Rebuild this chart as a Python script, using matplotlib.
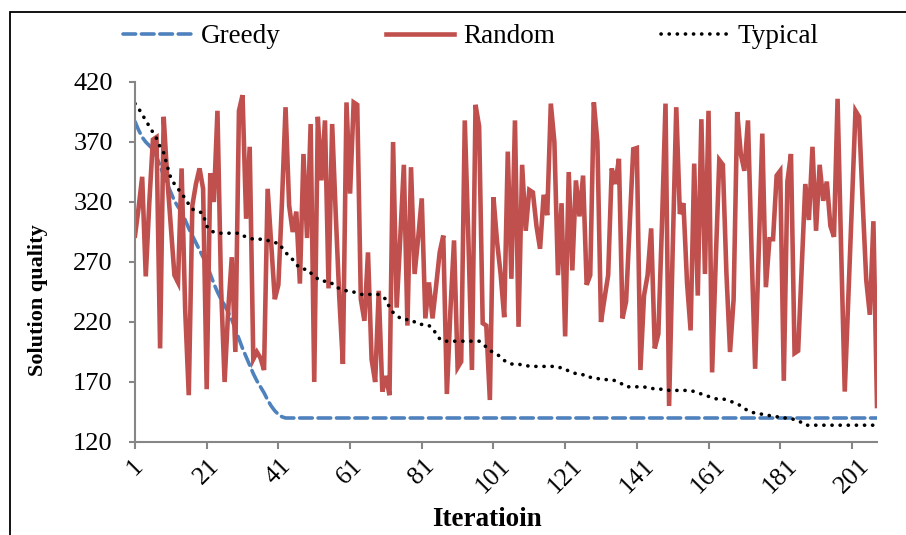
import matplotlib
matplotlib.use("Agg")
import matplotlib.pyplot as plt
import numpy as np
from matplotlib.patches import Rectangle

plt.rcParams['font.family'] = ['Liberation Serif', 'DejaVu Serif']

# solution quality per iteration
random_q = [292, 315, 341, 258, 320, 372, 374, 198, 391, 340,
            300, 259, 253, 348, 230, 159, 317, 335, 348, 331,
            164, 344, 320, 396, 250, 170, 230, 274, 195, 396,
            409, 306, 366, 189, 195, 190, 180, 331, 285, 239,
            251, 320, 399, 317, 295, 312, 252, 360, 290, 385,
            170, 391, 338, 388, 248, 385, 310, 240, 185, 403,
            327, 403, 401, 239, 221, 278, 189, 170, 246, 162,
            175, 159, 370, 232, 290, 351, 217, 349, 260, 290,
            323, 223, 253, 223, 250, 278, 292, 160, 230, 288,
            182, 187, 388, 290, 180, 401, 383, 219, 217, 155,
            324, 287, 260, 224, 362, 256, 388, 216, 351, 296,
            330, 328, 300, 281, 326, 309, 402, 370, 259, 319,
            208, 345, 263, 338, 308, 342, 251, 259, 403, 370,
            220, 240, 259, 348, 335, 356, 223, 237, 300, 364,
            365, 180, 242, 259, 298, 198, 210, 300, 402, 150,
            280, 399, 310, 319, 253, 213, 352, 242, 389, 260,
            396, 178, 270, 355, 351, 260, 195, 239, 395, 360,
            346, 388, 280, 181, 280, 377, 249, 289, 289, 342,
            346, 171, 337, 360, 194, 196, 265, 335, 305, 366,
            296, 351, 321, 337, 300, 291, 406, 280, 162, 240,
            318, 396, 391, 320, 255, 226, 304, 150]

greedy_q = [387, 380, 374, 370, 367, 364, 358, 350, 342, 335,
            328, 321, 316, 312, 305, 298, 292, 286, 280, 274,
            268, 260, 252, 245, 239, 234, 228, 222, 214, 206,
            198, 191, 184, 177, 171, 166, 161, 155, 150, 146,
            143, 141] + [140] * 166

typical_q = [402, 398, 393, 388, 383, 378, 373, 366, 361, 350,
             340, 335, 331, 327, 323, 318, 314, 313, 312, 310,
             300, 296, 295, 294, 294, 294, 294, 294, 294, 294,
             292, 291, 290, 289, 289, 289, 289, 288, 287, 286,
             286, 282, 278, 275, 272, 268, 265, 264, 264, 261,
             258, 256, 254, 254, 254, 252, 249, 248, 247, 246,
             245, 245, 244, 243, 243, 243, 243, 243, 243, 241,
             239, 232, 228, 226, 223, 222, 222, 222, 220, 218,
             218, 218, 217, 215, 210, 206, 204, 204, 204, 204,
             204, 204, 204, 204, 204, 204, 204, 202, 199, 196,
             195, 193, 191, 188, 186, 185, 185, 185, 184, 184,
             183, 183, 183, 183, 183, 183, 183, 183, 182, 182,
             181, 179, 178, 177, 177, 176, 174, 174, 173, 173,
             172, 172, 172, 172, 171, 170, 168, 166, 166, 166,
             166, 166, 166, 165, 165, 164, 164, 164, 164, 163,
             163, 163, 163, 163, 163, 163, 162, 161, 160, 159,
             158, 157, 156, 156, 156, 155, 154, 153, 152, 150,
             148, 146, 145, 144, 144, 143, 143, 142, 141, 141,
             141, 140, 140, 139, 139, 138, 136, 134, 134, 134,
             134, 134, 134, 134, 134, 134, 134, 134, 134, 134,
             134, 134, 134, 134, 134, 134, 134]

x_ticks = [1, 21, 41, 61, 81, 101, 121, 141, 161, 181, 201]
y_ticks = [120, 170, 220, 270, 320, 370, 420]

fig = plt.figure(figsize=(9.06, 5.35), dpi=100)
ax = fig.add_axes([135/906, 1-442/535, (877-135)/906, (442-82)/535])

x_r = np.arange(1, len(random_q) + 1)
x_g = np.arange(1, len(greedy_q) + 1)
x_t = np.arange(1, len(typical_q) + 1)

l1, = ax.plot(x_g, greedy_q, color="#4F81BD", lw=2.6, linestyle=(0, (3.5, 1.6)),
              dash_capstyle="round", label="Greedy")
l2, = ax.plot(x_r, random_q, color="#C0504D", lw=3.3, solid_joinstyle="miter",
              label="Random")
l3, = ax.plot(x_t, typical_q, color="black", lw=2.6, linestyle=(0, (0.05, 2.2)),
              dash_capstyle="round", label="Typical")

ax.set_xlim(1, len(random_q))
ax.set_ylim(120, 420)
ax.set_xticks(x_ticks)
ax.set_xticklabels([str(t) for t in x_ticks], rotation=45, fontsize=18.5)
ax.set_yticks(y_ticks)
ax.set_yticklabels([str(t) for t in y_ticks], fontsize=19)

for s in ["top", "right"]:
    ax.spines[s].set_visible(False)
for s in ["left", "bottom"]:
    ax.spines[s].set_color("#868686")
    ax.spines[s].set_linewidth(1.5)
ax.tick_params(axis="both", colors="#868686", width=1.5, length=5, labelcolor="black")
ax.tick_params(axis="y", pad=12, length=4)
ax.tick_params(axis="x", pad=4)

ax.set_xlabel("Iteratioin", fontsize=19.5, fontweight="bold", va="center")
ax.xaxis.set_label_coords((487-135)/742, (442-520)/360)
ax.set_ylabel("Solution quality", fontsize=16, fontweight="bold", va="center")
ax.yaxis.set_label_coords((38-135)/742, (442-300)/360)

fig.legend(handles=[l1, l2, l3], loc="center", bbox_to_anchor=(0.52, 1-37/535),
           ncol=3, frameon=False, fontsize=19.5, handlelength=2.5,
           handletextpad=0.35, columnspacing=3.9)

# chart border (top and left edges visible)
fig.patches.append(Rectangle((10/906, -0.1), 1.2, (1-12/535) + 0.1,
                             transform=fig.transFigure, fill=False,
                             edgecolor="black", lw=1.3, clip_on=False))

fig.savefig("out.png", dpi=100)
